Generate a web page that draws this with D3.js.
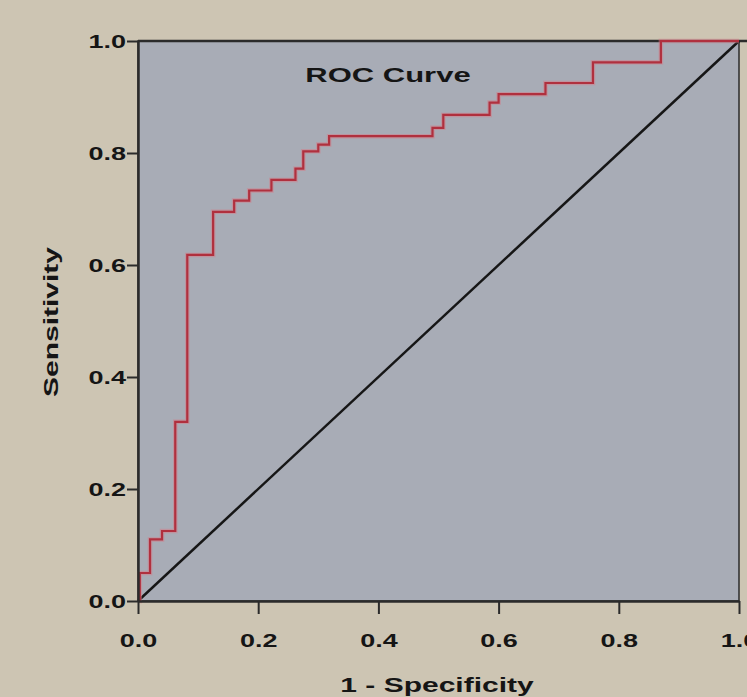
<!DOCTYPE html>
<html>
<head>
<meta charset="utf-8">
<script src="https://cdn.jsdelivr.net/npm/d3@7"></script>
<style>
  html, body { margin: 0; padding: 0; background: #cdc5b3; overflow: hidden; }
  text { font-family: 'Liberation Sans', Arial, sans-serif; font-weight: bold; fill: #151515; }
</style>
</head>
<body>
<div id="chart"></div>
<script>
// ROC points (1 - specificity, sensitivity), step after each point
var fpr = [0, 0.003, 0.02, 0.04, 0.062, 0.082, 0.125, 0.16, 0.185, 0.222, 0.262, 0.275, 0.30, 0.318, 0.49, 0.508, 0.585, 0.60, 0.678, 0.757, 0.87, 1.0];
var tpr = [0, 0.05, 0.11, 0.125, 0.32, 0.618, 0.695, 0.715, 0.733, 0.752, 0.772, 0.803, 0.815, 0.83, 0.845, 0.868, 0.89, 0.905, 0.925, 0.962, 1.0, 1.0];
var refLine = [0, 1];
var tickValues = [0, 0.2, 0.4, 0.6, 0.8, 1.0];
var title = 'ROC Curve';
var xLabel = '1 - Specificity';
var yLabel = 'Sensitivity';

var W = 747, H = 697;
var margin = { top: 41, right: 8, bottom: 96, left: 138 };
var width = W - margin.left - margin.right;
var height = H - margin.top - margin.bottom;
var stretch = 1.42;

var svg = d3.select('#chart').append('svg')
	.attr('width', W)
	.attr('height', H);

svg.append('rect').attr('width', W).attr('height', H).attr('fill', '#cdc5b3');

var g = svg.append('g')
	.attr('transform', 'translate(' + margin.left + ',' + margin.top + ')');

var x = d3.scaleLinear().domain([0, 1]).range([0, width]);
var y = d3.scaleLinear().domain([0, 1]).range([height, 0]);

// plot area
g.append('rect')
	.attr('x', 0).attr('y', 0)
	.attr('width', width).attr('height', height)
	.attr('fill', '#a8acb6')
	.attr('stroke', '#2b2b2b')
	.attr('stroke-width', 1.5);

// top frame line is heavier in the picture
g.append('line')
	.attr('x1', 0).attr('x2', width + margin.right)
	.attr('y1', 0).attr('y2', 0)
	.attr('stroke', '#2b2b2b').attr('stroke-width', 2.5);

// reference diagonal
g.append('line')
	.attr('x1', x(refLine[0])).attr('y1', y(refLine[0]))
	.attr('x2', x(refLine[1])).attr('y2', y(refLine[1]))
	.attr('stroke', '#161616')
	.attr('stroke-width', 2.5);

// ROC curve
var pts = fpr.map(function (d, i) { return [d, tpr[i]]; });
var line = d3.line()
	.x(function (d) { return x(d[0]); })
	.y(function (d) { return y(d[1]); })
	.curve(d3.curveStepAfter);

g.append('path')
	.datum(pts)
	.attr('d', line)
	.attr('fill', 'none')
	.attr('stroke', '#d67a86')
	.attr('stroke-opacity', 0.5)
	.attr('stroke-width', 4.5);
g.append('path')
	.datum(pts)
	.attr('d', line)
	.attr('fill', 'none')
	.attr('stroke', '#b0303e')
	.attr('stroke-width', 2.2);

// axes
var fmt = d3.format('.1f');
var yAxis = g.append('g')
	.call(d3.axisLeft(y).tickValues(tickValues).tickFormat(fmt).tickSize(11).tickSizeOuter(0));
yAxis.select('.domain').attr('stroke', '#2b2b2b').attr('stroke-width', 2.5);
yAxis.selectAll('.tick line').attr('stroke', '#2b2b2b').attr('stroke-width', 2);
yAxis.selectAll('text')
	.attr('x', 0).attr('dy', '0.36em')
	.attr('transform', 'translate(-12,0) scale(' + stretch + ',1)')
	.style('font-size', '19px')
	.style('font-family', "'Liberation Sans', Arial, sans-serif")
	.style('font-weight', 'bold')
	.attr('fill', '#151515');

var xAxis = g.append('g')
	.attr('transform', 'translate(0,' + height + ')')
	.call(d3.axisBottom(x).tickValues(tickValues).tickFormat(fmt).tickSize(13).tickSizeOuter(0));
xAxis.select('.domain').attr('stroke', '#2b2b2b').attr('stroke-width', 2.5);
xAxis.selectAll('.tick line').attr('stroke', '#2b2b2b').attr('stroke-width', 2);
xAxis.selectAll('text')
	.attr('y', 0).attr('dy', 0)
	.attr('transform', 'translate(0,46) scale(' + stretch + ',1)')
	.style('font-size', '19px')
	.style('font-family', "'Liberation Sans', Arial, sans-serif")
	.style('font-weight', 'bold')
	.attr('fill', '#151515');

// title and axis labels
svg.append('text')
	.attr('text-anchor', 'middle')
	.attr('transform', 'translate(388,82) scale(1.55,1)')
	.style('font-size', '20px')
	.text(title);

svg.append('text')
	.attr('text-anchor', 'middle')
	.attr('transform', 'translate(437,692) scale(1.5,1)')
	.style('font-size', '20px')
	.text(xLabel);

svg.append('text')
	.attr('text-anchor', 'middle')
	.attr('transform', 'translate(58,322) rotate(-90) scale(1.5,1)')
	.style('font-size', '20px')
	.text(yLabel);
</script>
</body>
</html>
